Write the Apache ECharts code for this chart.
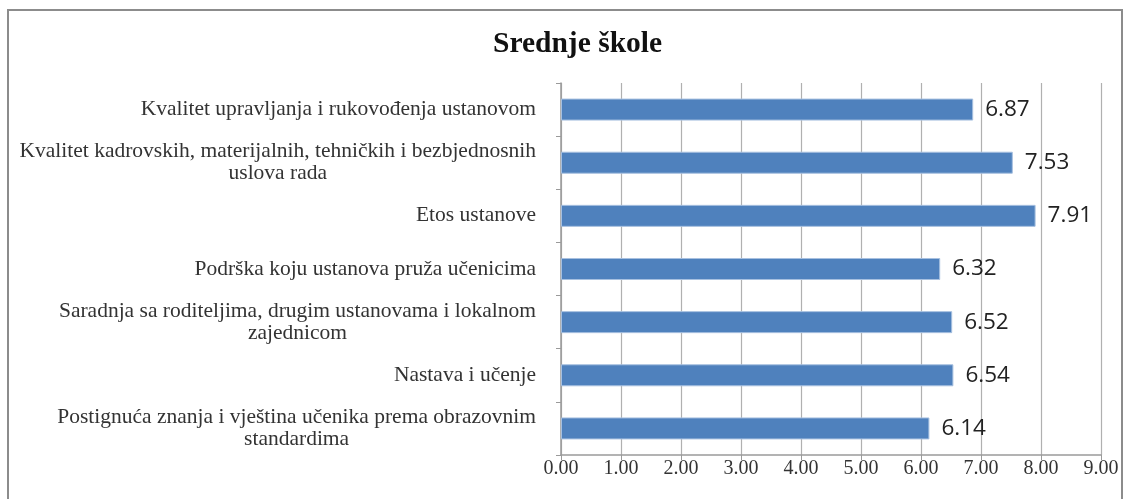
<!DOCTYPE html>
<html><head><meta charset="utf-8">
<script src="https://cdn.jsdelivr.net/npm/echarts@6/dist/echarts.min.js"></script>
<style>html,body{margin:0;padding:0;background:#fff}#c{width:1130px;height:499px}</style>
</head><body><div id="c"></div>
<script>
const title = 'Srednje škole';
const categories = [
  'Kvalitet upravljanja i rukovođenja ustanovom',
  'Kvalitet kadrovskih, materijalnih, tehničkih i bezbjednosnih\nuslova rada',
  'Etos ustanove',
  'Podrška koju ustanova pruža učenicima',
  'Saradnja sa roditeljima, drugim ustanovama i lokalnom\nzajednicom',
  'Nastava i učenje',
  'Postignuća znanja i vještina učenika prema obrazovnim\nstandardima'
];
const values = [6.87, 7.53, 7.91, 6.32, 6.52, 6.54, 6.14];
const xTicks = {min: 0, max: 9, interval: 1};

const chart = echarts.init(document.getElementById('c'));
chart.setOption({
  animation: false,
  title: {text: title, left: 488, top: 24,
    textStyle: {fontFamily: 'Liberation Serif', fontWeight: 'bold', fontSize: 29.5, color: '#111'}},
  graphic: [{type: 'rect', shape: {x: 8, y: 10, width: 1114, height: 500},
    style: {fill: 'none', stroke: '#8c8c8c', lineWidth: 2}, silent: true}],
  grid: {left: 561, right: 29, top: 83, bottom: 44, containLabel: false},
  xAxis: {type: 'value', min: xTicks.min, max: xTicks.max, interval: xTicks.interval,
    axisLine: {show: true, lineStyle: {color: '#9a9a9a', width: 1.5}},
    axisTick: {show: true, length: 5, lineStyle: {color: '#9a9a9a'}},
    splitLine: {show: true, lineStyle: {color: '#b0b0b0', width: 1.2}},
    axisLabel: {formatter: v => v.toFixed(2), fontFamily: 'Liberation Serif', fontSize: 20, color: '#333', margin: 4}},
  yAxis: {type: 'category', inverse: true, data: categories,
    axisLine: {show: true, lineStyle: {color: '#9a9a9a', width: 1.5}},
    axisTick: {show: true, length: 5, lineStyle: {color: '#9a9a9a'}},
    axisLabel: {margin: 25, fontFamily: 'Liberation Serif', fontSize: 21.5, color: '#333', lineHeight: 22,
      formatter: v => v.split('\n').map(l => '{a|' + l + '}').join('\n'),
      rich: {a: {align: 'center', fontFamily: 'Liberation Serif', fontSize: 21.5, color: '#333', lineHeight: 22}}}},
  series: [{type: 'bar', data: values, barWidth: 22,
    itemStyle: {color: '#4f81bd', borderColor: '#a7c0e0', borderWidth: 1},
    label: {show: true, position: 'right', distance: 12, formatter: p => p.value.toFixed(2),
      fontFamily: 'Open Sans', fontSize: 22.5, color: '#222'}}]
});
</script></body></html>
